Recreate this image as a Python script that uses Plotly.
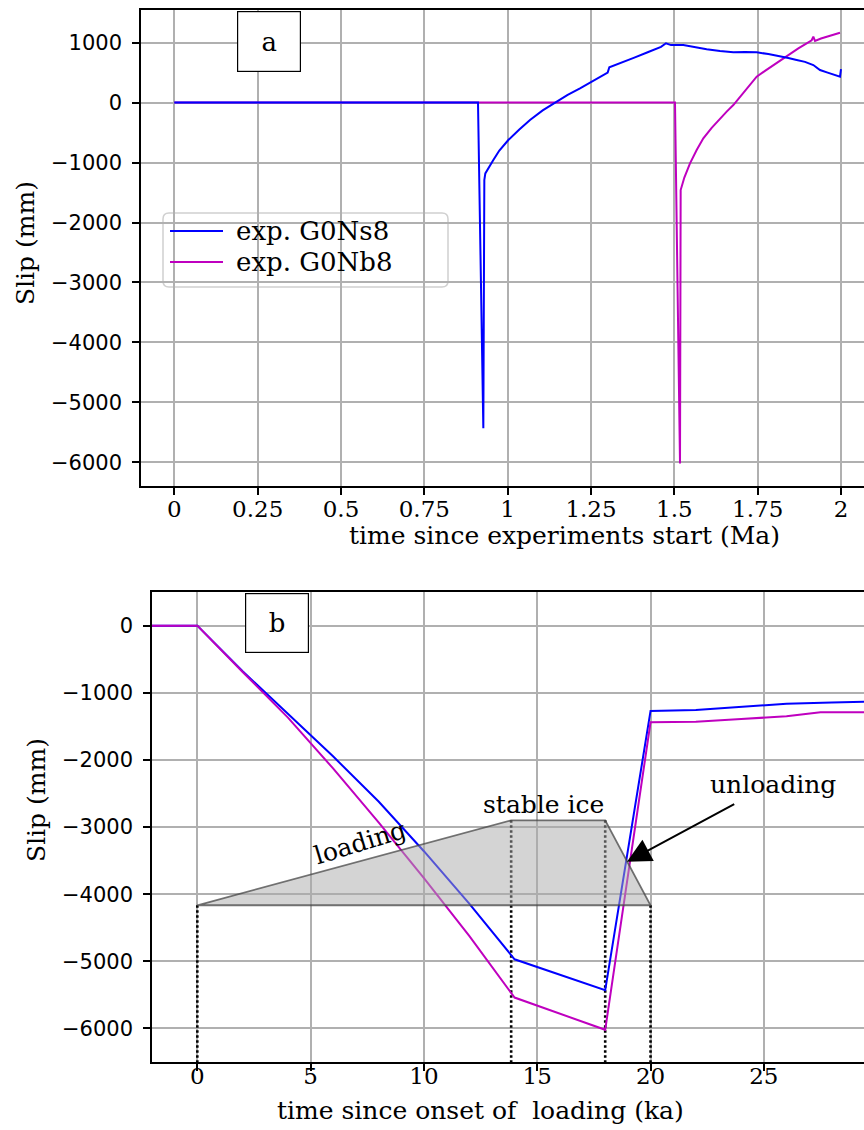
import plotly.graph_objects as go

# ---- panel a: slip over the whole experiment (Ma) ----
ns8_t = [0, 0.911, 0.927, 0.930, 0.933, 0.945, 0.957, 0.975, 1.002, 1.035, 1.067,
         1.105, 1.147, 1.180, 1.217, 1.250, 1.277, 1.300, 1.305, 1.340, 1.380, 1.420,
         1.460, 1.475, 1.490, 1.527, 1.560, 1.597, 1.637, 1.677, 1.712, 1.747, 1.782,
         1.817, 1.842, 1.867, 1.892, 1.917, 1.937, 1.960, 1.997, 2.000]
ns8_slip = [0, 0, -5430, -1290, -1180, -1060, -958, -800, -624, -450, -290,
            -130, 16, 130, 238, 340, 432, 500, 590, 660, 750, 840,
            930, 990, 960, 961, 925, 889, 860, 839, 845, 839, 810,
            777, 745, 711, 680, 627, 544, 500, 432, 560]

nb8_t = [0, 1.502, 1.517, 1.519, 1.530, 1.547, 1.567, 1.587, 1.612, 1.637, 1.657,
         1.677, 1.697, 1.717, 1.747, 1.772, 1.797, 1.822, 1.847, 1.872, 1.897,
         1.912, 1.917, 1.922, 1.940, 1.970, 1.997]
nb8_slip = [0, 0, -6020, -1458, -1250, -1013, -790, -596, -420, -262, -150,
            -40, 100, 238, 432, 530, 627, 725, 822, 905, 989,
            1040, 1100, 1030, 1070, 1120, 1166]

series_names = ["exp. G0Ns8", "exp. G0Nb8"]

a_xticks = [0, 0.25, 0.5, 0.75, 1, 1.25, 1.5, 1.75, 2]
a_xlabels = ["0", "0.25", "0.5", "0.75", "1", "1.25", "1.5", "1.75", "2"]
a_yticks = [1000, 0, -1000, -2000, -3000, -4000, -5000, -6000]

# ---- panel b: slip since onset of loading (ka) ----
ns8_b_t = [-2, 0, 2, 4, 6, 8, 10, 12, 14, 18, 20, 22, 24, 26, 28, 30]
ns8_b_slip = [0, 0, -680, -1310, -1950, -2620, -3360, -4140, -4970, -5430,
              -1270, -1255, -1210, -1165, -1145, -1130]
nb8_b_t = [-2, 0, 2, 4, 6, 8, 10, 12, 14, 18, 20, 22, 24, 26, 27.5, 30]
nb8_b_slip = [0, 0, -690, -1370, -2130, -2930, -3760, -4620, -5540, -6020,
              -1440, -1430, -1390, -1350, -1290, -1290]

# ice load history sketch (trapezoid) and its phase boundaries
ice_t = [0, 13.85, 18, 20]
ice_level = [-4165, -2900, -2900, -4165]
b_xticks = [0, 5, 10, 15, 20, 25, 30]
b_yticks = [0, -1000, -2000, -3000, -4000, -5000, -6000]

W, H = 864, 1130
BLUE = "#0000ff"
MAG = "#bf00bf"
SERIF = "DejaVu Serif, serif"
SANS = "DejaVu Sans, sans-serif"


def px(x):
    return x / W


def py(y):
    return 1 - y / H


def rounded_rect(x0, y0, x1, y1, r):
    """SVG path (paper coords) of a rectangle given in pixels with rounded corners."""
    pts = [
        ("M", (x0 + r, y0)), ("L", (x1 - r, y0)), ("Q", (x1, y0), (x1, y0 + r)),
        ("L", (x1, y1 - r)), ("Q", (x1, y1), (x1 - r, y1)), ("L", (x0 + r, y1)),
        ("Q", (x0, y1), (x0, y1 - r)), ("L", (x0, y0 + r)),
        ("Q", (x0, y0), (x0 + r, y0)),
    ]
    out = []
    for cmd, *coords in pts:
        out.append(cmd + " " + " ".join(f"{px(a):.5f},{py(b):.5f}" for a, b in coords))
    return " ".join(out) + " Z"


fig = go.Figure()

# panel a traces (magenta first so the blue zero line sits on top)
fig.add_trace(go.Scatter(x=nb8_t, y=nb8_slip, mode="lines", name=series_names[1],
                         line=dict(color=MAG, width=2), showlegend=False,
                         xaxis="x", yaxis="y"))
fig.add_trace(go.Scatter(x=ns8_t, y=ns8_slip, mode="lines", name=series_names[0],
                         line=dict(color=BLUE, width=2), showlegend=False,
                         xaxis="x", yaxis="y"))

# panel b: dotted phase boundaries down to the axis floor
b_floor = -6500
for t, lvl in zip(ice_t, ice_level):
    fig.add_trace(go.Scatter(x=[t, t], y=[lvl, b_floor], mode="lines",
                             line=dict(color="black", width=2.6, dash="2.5px,2.5px"),
                             showlegend=False, hoverinfo="skip",
                             xaxis="x2", yaxis="y2"))

fig.add_trace(go.Scatter(x=ns8_b_t, y=ns8_b_slip, mode="lines", showlegend=False,
                         name=series_names[0],
                         line=dict(color=BLUE, width=2), xaxis="x2", yaxis="y2"))
fig.add_trace(go.Scatter(x=nb8_b_t, y=nb8_b_slip, mode="lines", showlegend=False,
                         name=series_names[1],
                         line=dict(color=MAG, width=2), xaxis="x2", yaxis="y2"))

# translucent ice trapezoid drawn over the curves
fig.add_trace(go.Scatter(x=ice_t + [ice_t[0]], y=ice_level + [ice_level[0]],
                         mode="lines", fill="toself",
                         fillcolor="rgba(169,169,169,0.5)",
                         line=dict(color="rgba(70,70,70,0.75)", width=1.8),
                         showlegend=False, hoverinfo="skip",
                         xaxis="x2", yaxis="y2"))

axis_common = dict(
    showgrid=True, gridcolor="#b0b0b0", gridwidth=1.5,
    showline=True, linecolor="black", linewidth=1.6,
    ticks="outside", ticklen=7, tickwidth=1.5, tickcolor="black",
    zeroline=False,
)

fig.update_layout(
    width=W, height=H,
    margin=dict(l=0, r=0, t=0, b=0),
    paper_bgcolor="white", plot_bgcolor="white",
    showlegend=False,
    xaxis=dict(domain=[px(141), 1], range=[-0.1, 2.069], anchor="y",
               tickvals=a_xticks, ticktext=a_xlabels, mirror=True,
               tickfont=dict(family=SERIF, size=23, color="black"),
               ticklabelstandoff=-5, **axis_common),
    yaxis=dict(domain=[py(486), py(10)], range=[-6395, 1545], anchor="x",
               tickvals=a_yticks,
               tickfont=dict(family=SANS, size=21, color="black"),
               ticklabelstandoff=6, **axis_common),
    xaxis2=dict(domain=[px(152), 1], range=[-2, 29.42], anchor="y2",
                tickvals=b_xticks, mirror=True,
                tickfont=dict(family=SERIF, size=23, color="black"),
                ticklabelstandoff=-14, **axis_common),
    yaxis2=dict(domain=[py(1062), py(591.7)], range=[-6500, 506], anchor="x2",
                tickvals=b_yticks,
                tickfont=dict(family=SANS, size=21, color="black"),
                ticklabelstandoff=6, **axis_common),
)

# legend frame with its two entries
fig.add_shape(type="path", xref="paper", yref="paper",
              path=rounded_rect(163, 213, 448, 287, 6),
              fillcolor="rgba(255,255,255,0.8)",
              line=dict(color="#d0d0d0", width=1.5), layer="between")
legend_rows = [(231, BLUE), (262, MAG)]
annotations = []
for name, (row_y, col) in zip(series_names, legend_rows):
    fig.add_shape(type="line", xref="paper", yref="paper",
                  x0=px(170), x1=px(223), y0=py(row_y), y1=py(row_y),
                  line=dict(color=col, width=2.2))
    annotations.append(dict(text=name, x=px(234), y=py(row_y), xref="paper",
                            yref="paper", xanchor="left", yanchor="middle",
                            showarrow=False,
                            font=dict(family=SERIF, size=26, color="black")))

annotations += [
    # axis titles
    dict(text="time since experiments start (Ma)", x=px(564), y=py(535),
         xref="paper", yref="paper", xanchor="center", yanchor="middle",
         showarrow=False, font=dict(family=SERIF, size=25, color="black")),
    dict(text="Slip (mm)", x=px(25), y=py(243), xref="paper", yref="paper",
         xanchor="center", yanchor="middle", textangle=-90, showarrow=False,
         font=dict(family=SERIF, size=25, color="black")),
    dict(text="time since onset of  loading (ka)", x=px(480), y=py(1110),
         xref="paper", yref="paper", xanchor="center", yanchor="middle",
         showarrow=False, font=dict(family=SERIF, size=25, color="black")),
    dict(text="Slip (mm)", x=px(36), y=py(800), xref="paper", yref="paper",
         xanchor="center", yanchor="middle", textangle=-90, showarrow=False,
         font=dict(family=SERIF, size=25, color="black")),
    # panel labels
    dict(text="a", x=px(268.5), y=py(41), xref="paper", yref="paper",
         xanchor="center", yanchor="middle",
         showarrow=False, width=62, height=59, borderpad=0,
         bgcolor="white", bordercolor="black", borderwidth=1.2,
         font=dict(family=SERIF, size=26, color="black")),
    dict(text="b", x=px(277.3), y=py(622.5), xref="paper", yref="paper",
         xanchor="center", yanchor="middle",
         showarrow=False, width=62, height=58, borderpad=0,
         bgcolor="white", bordercolor="black", borderwidth=1.2,
         font=dict(family=SERIF, size=26, color="black")),
    # ice phases
    dict(text="loading", x=7.2, y=-3230, xref="x2", yref="y2", showarrow=False,
         xanchor="center", yanchor="middle",
         textangle=-17, font=dict(family=SERIF, size=25, color="black")),
    dict(text="stable ice", x=15.28, y=-2670, xref="x2", yref="y2",
         xanchor="center", yanchor="middle",
         showarrow=False, font=dict(family=SERIF, size=25, color="black")),
    dict(text="unloading", x=25.4, y=-2370, xref="x2", yref="y2",
         xanchor="center", yanchor="middle",
         showarrow=False, font=dict(family=SERIF, size=25, color="black")),
    dict(text="", x=18.96, y=-3517, xref="x2", yref="y2",
         ax=23.76, ay=-2647, axref="x2", ayref="y2",
         showarrow=True, arrowhead=2, arrowsize=2.4, arrowwidth=2,
         arrowcolor="black", standoff=0),
]
fig.update_layout(annotations=annotations)

fig.write_html("out.html")
